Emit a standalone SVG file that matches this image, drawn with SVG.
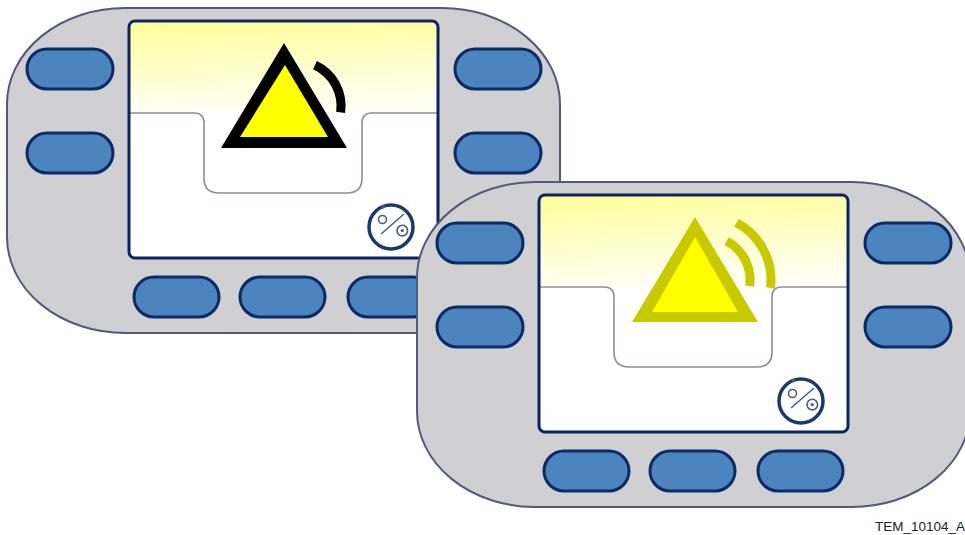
<svg xmlns="http://www.w3.org/2000/svg" xmlns:xlink="http://www.w3.org/1999/xlink" width="965" height="535" viewBox="0 0 965 535">
  <style>
    .shell { fill: #d0d0d3; stroke: #55587c; stroke-width: 2; }
    .screen { fill: #ffffff; }
    .screen-frame { fill: none; stroke: #0d2360; stroke-width: 3; }
    .tab-line { fill: none; stroke: #8c8ca2; stroke-width: 1.6; }
    .key { fill: #4c84c0; stroke: #0c2a66; stroke-width: 3; }
    .icon-ring { fill: #ffffff; stroke: #1b3a6b; stroke-width: 3.5; }
    .icon-glyph { fill: none; stroke: #4a5f80; stroke-width: 1.6; }
    .icon-dot { fill: #4a5f80; }
    .wave { fill: none; stroke-width: 9; stroke-linecap: butt; }
    .label { font-family: "Liberation Sans", Arial, sans-serif; font-size: 13.5px; fill: #222222; }
  </style>
  <defs>
    <linearGradient id="lcd-glow" x1="0" y1="0" x2="0.15" y2="1">
      <stop offset="0" stop-color="#fefe98"/>
      <stop offset="1" stop-color="#fffff4"/>
    </linearGradient>

    <!-- shared hand-held body: shell, display, tab outline, keys, mode icon -->
    <g id="panel">
      <path class="shell" d="M125,8 H442 A118 96 0 0 1 560 104 V237 A118 96 0 0 1 442 333 H125 A118 96 0 0 1 7 237 V104 A118 96 0 0 1 125 8 Z"/>
      <rect class="screen" x="129" y="21" width="309" height="237" rx="6"/>
      <path fill="url(#lcd-glow)" d="M135,21 H432 Q438,21 438,27 V113 H129 V27 Q129,21 135,21 Z"/>
      <path class="tab-line" d="M130,113 H194 Q204,113 204,123 V178 Q204,193 219,193 H347 Q362,193 362,178 V123 Q362,113 372,113 H437"/>
      <rect class="screen-frame" x="129" y="21" width="309" height="237" rx="6"/>

      <rect class="key" x="27" y="49" width="86" height="40" rx="20"/>
      <rect class="key" x="27" y="133" width="86" height="40" rx="20"/>
      <rect class="key" x="455" y="49" width="86" height="40" rx="20"/>
      <rect class="key" x="455" y="133" width="86" height="40" rx="20"/>
      <rect class="key" x="134" y="277" width="85" height="40" rx="20"/>
      <rect class="key" x="240" y="277" width="85" height="40" rx="20"/>
      <rect class="key" x="348" y="277" width="85" height="40" rx="20"/>

      <g id="mode-icon">
        <circle class="icon-ring" cx="391" cy="227" r="22"/>
        <circle class="icon-dot" cx="383.3" cy="206.8" r="1.8"/>
        <circle class="icon-glyph" cx="382.5" cy="219.5" r="4"/>
        <line class="icon-glyph" x1="381" y1="234" x2="404" y2="214"/>
        <circle class="icon-glyph" cx="402.3" cy="230.6" r="5.3"/>
        <circle class="icon-dot" cx="402.3" cy="230.6" r="1.6"/>
      </g>
    </g>
  </defs>

  <!-- rear unit: black-outlined warning triangle with one signal arc -->
  <g id="device-back">
    <use xlink:href="#panel" href="#panel"/>
    <g id="warning-back">
      <polygon fill="#000000" points="284,43 221,148 347,148"/>
      <polygon fill="#ffff00" points="285,65 240,137 328,137"/>
      <path class="wave" stroke="#000000" d="M315.0,65.2 A45 45 0 0 1 340.6,112.3"/>
    </g>
  </g>

  <!-- front unit: olive-outlined warning triangle with two signal arcs -->
  <g id="device-front" transform="translate(410,174)">
    <use xlink:href="#panel" href="#panel"/>
    <g id="warning-front">
      <polygon fill="#c9c900" points="285,43 222,148 348,148"/>
      <polygon fill="#ffff00" points="285,63 242,138 328,138"/>
      <path class="wave" stroke="#c9c900" d="M316.7,67.1 A44 44 0 0 1 339.6,112.1"/>
      <path class="wave" stroke="#c9c900" d="M326.5,48.6 A65 65 0 0 1 360.5,113.9"/>
    </g>
  </g>

  <g id="caption">
    <text class="label" x="875" y="531">TEM_10104_A</text>
  </g>
</svg>
